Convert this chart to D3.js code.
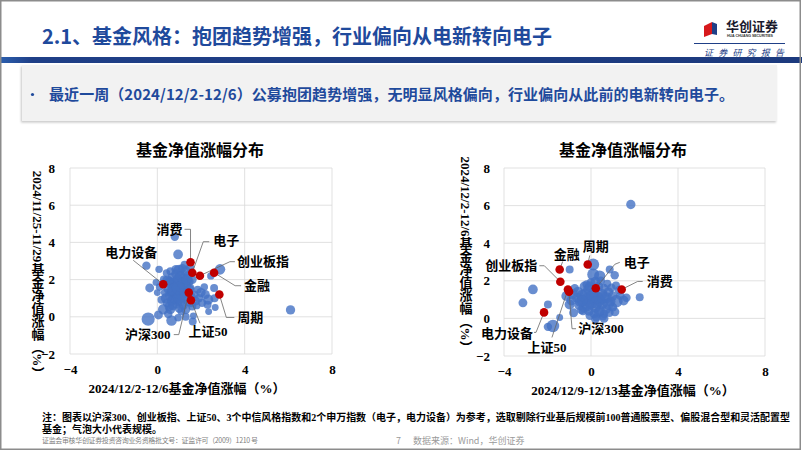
<!DOCTYPE html>
<html>
<head>
<meta charset="utf-8">
<script src="https://cdn.jsdelivr.net/npm/d3@7"></script>
<style>
  body { margin: 0; background: #fff; }
  svg { display: block; }
</style>
</head>
<body>
<script>
// ---------- data ----------
const xTicks = [-4, 0, 4, 8];
const yTicks = [-2, 0, 2, 4, 6, 8];
const indexNames = ["沪深300", "创业板指", "上证50", "消费", "金融", "周期", "电子", "电力设备"];

// left: x = 2024/12/2-12/6, y = 2024/11/25-11/29
const leftIndexX = [1.44, 1.95, 1.54, 1.52, 2.60, 2.84, 1.60, 0.27];
const leftIndexY = [1.30, 2.21, 0.89, 2.93, 2.37, 1.20, 2.37, 1.75];
// [x, y, size]
const leftFunds = [
  [0.8, 4.3, 45], [0.95, 3.35, 60], [-0.5, 2.75, 45], [0.08, 2.55, 35], [0.42, 2.35, 35],
  [2.87, 2.55, 70], [2.45, 2.2, 35], [-0.35, 1.55, 50], [-0.06, 1.85, 30], [2.6, 1.55, 40],
  [6.1, 0.37, 55], [-0.42, -0.12, 110], [0.65, -0.2, 70], [1.62, -0.25, 40], [1.65, 0.05, 30],
  [2.35, 0.28, 30], [2.65, 0.5, 30], [0.27, 0.4, 70], [0.05, 0.1, 50], [0.19, 0.92, 40],
  [2.05, 0.75, 45], [2.33, 0.92, 65], [2.62, 1.0, 40], [2.2, 1.2, 50], [1.85, 1.45, 40],
  [2.0, 1.3, 55], [2.15, 1.6, 35], [1.9, 1.0, 45], [2.3, 0.65, 40], [1.8, 0.6, 35],
  [1.3, 0.0, 40], [0.5, 0.15, 45], [0.95, -0.05, 35], [1.1, 0.3, 40], [0.1, 1.6, 35],
  [0.0, 1.3, 30], [0.3, 2.0, 40],
  [0.5, 1.5, 60], [0.6, 1.8, 70], [0.7, 2.1, 65], [0.85, 2.3, 55], [1.0, 2.5, 80],
  [1.15, 2.6, 50], [1.3, 2.45, 70], [1.4, 2.2, 60], [1.2, 2.0, 90], [1.0, 1.8, 100],
  [0.8, 1.6, 90], [0.65, 1.35, 70], [0.55, 1.1, 60], [0.75, 1.0, 80], [0.9, 1.25, 100],
  [1.1, 1.5, 90], [1.3, 1.7, 70], [1.45, 1.9, 55], [1.5, 1.55, 50], [1.35, 1.25, 60],
  [1.2, 1.05, 70], [1.05, 0.85, 80], [0.9, 0.7, 60], [0.7, 0.6, 55], [1.0, 0.45, 50],
  [1.2, 0.6, 45], [1.4, 0.8, 45], [0.45, 0.75, 50], [0.35, 1.3, 45], [0.6, 2.45, 40],
  [1.5, 2.65, 45], [1.25, 2.8, 40], [0.95, 2.0, 75], [0.75, 1.85, 55], [1.1, 1.2, 85],
  [0.85, 0.95, 75], [1.25, 1.35, 65], [0.65, 0.85, 55], [1.55, 1.1, 45], [1.7, 1.2, 40],
  [1.75, 0.85, 50], [1.6, 0.55, 40], [0.25, 1.75, 40], [1.05, 2.2, 60], [0.55, 1.95, 45],
  [0.4, 1.0, 70], [0.6, 0.4, 60], [1.3, 0.4, 55], [1.45, 1.45, 70], [0.75, 1.45, 100],
  [1.0, 1.05, 100], [1.15, 1.8, 80], [0.45, 1.95, 60], [1.35, 2.0, 70], [0.95, 1.55, 100],
  [0.55, 0.55, 55], [1.6, 2.0, 50], [1.55, 0.75, 50], [0.85, 2.55, 50]
];

// right: x = 2024/12/9-12/13, y = 2024/12/2-12/6
const rightIndexX = [-1.01, -1.41, -1.06, 1.41, -1.44, -0.15, 0.22, -2.16];
const rightIndexY = [1.42, 1.95, 1.54, 1.54, 2.60, 2.87, 1.60, 0.32];
const rightFunds = [
  [1.83, 6.06, 55], [-2.67, 1.54, 60], [-3.13, 0.83, 50], [-1.98, 0.74, 40], [-0.98, 2.6, 40],
  [-1.44, 0.05, 30], [-1.75, -0.4, 100], [-1.98, -0.45, 45], [2.24, 1.13, 40], [1.63, 1.1, 45],
  [1.09, 2.3, 45], [0.86, 2.6, 40], [0.1, 2.87, 90], [0.1, 2.34, 90], [0.4, 2.25, 80],
  [0.94, 1.63, 45], [1.17, 0.92, 100], [0.55, 0.12, 45], [-0.37, 0.39, 45], [-0.98, 0.74, 65],
  [-1.13, 1.19, 65], [-0.8, 0.3, 50], [1.3, 1.5, 50], [0.2, 1.95, 60], [-0.2, 1.8, 45],
  [-0.6, 1.4, 70], [-0.4, 1.2, 90], [-0.2, 1.0, 100], [0.0, 0.8, 90], [0.2, 0.6, 80],
  [0.4, 0.4, 70], [0.5, 0.8, 90], [0.3, 1.1, 100], [0.1, 1.35, 90], [-0.1, 1.55, 80],
  [-0.3, 1.7, 60], [0.5, 1.3, 70], [0.7, 1.1, 80], [0.9, 0.9, 60], [0.8, 1.4, 60],
  [0.6, 1.6, 50], [0.35, 1.7, 55], [-0.5, 0.9, 70], [-0.3, 0.6, 80], [-0.1, 0.4, 60],
  [0.15, 0.25, 55], [0.7, 0.5, 60], [1.0, 1.2, 55], [-0.65, 1.1, 60], [0.0, 1.9, 50],
  [0.6, 0.25, 45], [0.25, 0.05, 40], [-0.05, 0.15, 50], [0.85, 0.3, 45], [1.0, 0.6, 50],
  [-0.45, 0.45, 45], [-0.75, 1.6, 45], [0.45, 2.0, 45], [0.75, 1.85, 40], [1.15, 1.75, 40],
  [1.35, 1.2, 45], [-0.25, 1.3, 80], [0.15, 1.05, 90], [0.4, 0.95, 80], [-0.55, 0.7, 55],
  [-0.85, 1.3, 70], [-0.9, 0.95, 60], [0.05, 1.15, 100], [0.25, 0.85, 100], [0.55, 1.1, 90],
  [-0.15, 0.7, 90], [1.1, 0.35, 50], [1.5, 0.95, 60], [0.35, 0.3, 60], [-0.05, 1.7, 60],
  [0.8, 0.75, 80], [-0.4, 0.95, 80], [0.6, 0.0, 50], [0.2, -0.05, 45]
];

// ---------- layout ----------
const W = 802, H = 451;
const blue = "#4472C4", red = "#C00000", navy = "#1F4A9C";
const serif = "'Liberation Serif', 'Noto Sans CJK SC', serif";
const sans = "'Noto Sans CJK SC', sans-serif";

// label offsets (px, relative to red dot) and leader line points
const leftLabels = {
  "沪深300": { dx: -41, dy: 42, line: [[0, 0], [-10, 42], [-15, 42]] },
  "创业板指": { dx: 63, dy: -14, line: [[0, 0], [30, -14], [35, -14]] },
  "上证50": { dx: 17, dy: 31, line: [[0, 0], [9, 23]] },
  "消费": { dx: -21, dy: -33, line: [[0, 0], [0, -33], [-6, -33]] },
  "金融": { dx: 43, dy: 13, line: [[0, 0], [21, 13], [27, 13]] },
  "周期": { dx: 31, dy: 23, line: [[0, 0], [7, 23], [15, 23]] },
  "电子": { dx: 34, dy: -32, line: [[0, 0], [11, -31], [17, -31]] },
  "电力设备": { dx: -32, dy: -32, line: [[0, 0], [-30, -24]] }
};
const rightLabels = {
  "沪深300": { dx: 32, dy: 37, line: [[0, 0], [3, 37], [7, 37]] },
  "创业板指": { dx: -49, dy: -16, line: [[0, 0], [-16, -16], [-21, -16]] },
  "上证50": { dx: -21, dy: 58, line: [[0, 0], [-16, 48]] },
  "消费": { dx: 38, dy: -8, line: [[0, 0], [16, -8], [21, -8]] },
  "金融": { dx: 7, dy: -15, line: [[0, 0], [3, -8]] },
  "周期": { dx: 8, dy: -18, line: [[0, 0], [2, -9]] },
  "电子": { dx: 41, dy: -26, line: [[0, 0], [19, -24], [24, -26]] },
  "电力设备": { dx: -37, dy: 21, line: [[0, 0], [-8, 20], [-10, 20]] }
};

const svg = d3.select("body").append("svg")
  .attr("width", W).attr("height", H)
  .attr("viewBox", `0 0 ${W} ${H}`);

const defs = svg.append("defs");
const grad = defs.append("linearGradient").attr("id", "bar");
grad.append("stop").attr("offset", "0%").attr("stop-color", "#2c5fae");
grad.append("stop").attr("offset", "4%").attr("stop-color", "#1f3f87");
grad.append("stop").attr("offset", "100%").attr("stop-color", "#1c3a7e");
const shadow = defs.append("filter").attr("id", "sh").attr("x", "-5%").attr("y", "-20%")
  .attr("width", "110%").attr("height", "150%");
shadow.append("feDropShadow").attr("dx", -1).attr("dy", 1.5).attr("stdDeviation", 1.2)
  .attr("flood-color", "#000").attr("flood-opacity", 0.22);

// ---------- header ----------
svg.append("text")
  .attr("x", 42).attr("y", 44)
  .attr("font-family", sans).attr("font-weight", "bold").attr("font-size", 20)
  .attr("fill", navy)
  .text("2.1、基金风格：抱团趋势增强，行业偏向从电新转向电子");

svg.append("rect").attr("x", 0).attr("y", 57).attr("width", W).attr("height", 6)
  .attr("fill", "url(#bar)");

// logo
const logo = svg.append("g");
logo.append("polygon").attr("points", "704,26 712,22 712,34 704,37").attr("fill", "#d7191c");
logo.append("polygon").attr("points", "712,22 717,24 717,35 712,34").attr("fill", "#1f3f87");
logo.append("text").attr("x", 726).attr("y", 31)
  .attr("font-family", sans).attr("font-weight", "bold").attr("font-size", 13)
  .attr("fill", "#1a1a2e").text("华创证券");
logo.append("text").attr("x", 727).attr("y", 37)
  .attr("font-family", "'Liberation Sans', sans-serif").attr("font-weight", "bold").attr("font-size", 3.6)
  .attr("fill", "#333").attr("textLength", 46).text("HUA CHUANG SECURITIES");
logo.append("line").attr("x1", 694).attr("x2", 785).attr("y1", 43.5).attr("y2", 43.5)
  .attr("stroke", "#1f3f87").attr("stroke-width", 1);
logo.append("text").attr("x", 704).attr("y", 56)
  .attr("font-family", "'Noto Sans CJK SC', sans-serif").attr("font-size", 9)
  .attr("font-style", "italic")
  .attr("fill", "#1f3f87").attr("textLength", 80).text("证券研究报告");

// summary box
svg.append("rect").attr("x", 22).attr("y", 65).attr("width", 755).attr("height", 56)
  .attr("fill", "#F2F2F2").attr("filter", "url(#sh)");
svg.append("circle").attr("cx", 32.5).attr("cy", 94.5).attr("r", 1.6).attr("fill", navy);
svg.append("text")
  .attr("x", 49).attr("y", 99.5)
  .attr("font-family", sans).attr("font-weight", "bold").attr("font-size", 15)
  .attr("fill", navy).attr("textLength", 685)
  .text("最近一周（2024/12/2-12/6）公募抱团趋势增强，无明显风格偏向，行业偏向从此前的电新转向电子。");

// ---------- charts ----------
const rScale = d3.scaleSqrt().domain([0, 110]).range([0, 6.6]);

function drawChart(cfg) {
  const x = d3.scaleLinear().domain([-4, 8]).range([cfg.left, cfg.right]);
  const y = d3.scaleLinear().domain([-2, 8]).range([cfg.bottom, cfg.top]);
  const g = svg.append("g");

  // grid
  g.append("g").selectAll("line").data(yTicks).join("line")
    .attr("x1", cfg.left).attr("x2", cfg.right)
    .attr("y1", d => y(d)).attr("y2", d => y(d))
    .attr("stroke", "#D9D9D9").attr("stroke-width", 0.8);
  g.append("g").selectAll("line").data(xTicks).join("line")
    .attr("y1", cfg.top).attr("y2", cfg.bottom)
    .attr("x1", d => x(d)).attr("x2", d => x(d))
    .attr("stroke", "#D9D9D9").attr("stroke-width", 0.8);

  // axes (labels only)
  const yAxis = g.append("g").attr("transform", `translate(${cfg.left},0)`)
    .call(d3.axisLeft(y).tickValues(yTicks).tickSize(0).tickPadding(cfg.yPad));
  const xAxis = g.append("g").attr("transform", `translate(0,${cfg.bottom})`)
    .call(d3.axisBottom(x).tickValues(xTicks).tickSize(0).tickPadding(11));
  [yAxis, xAxis].forEach(a => {
    a.select(".domain").remove();
    a.selectAll("text").attr("font-family", serif).attr("font-weight", "bold")
      .attr("font-size", 13).attr("fill", "#000");
  });

  // fund bubbles
  g.append("g").selectAll("circle").data(cfg.funds).join("circle")
    .attr("cx", d => x(d[0])).attr("cy", d => y(d[1])).attr("r", d => rScale(d[2]))
    .attr("fill", blue).attr("fill-opacity", 0.8);

  const idx = indexNames.map((n, i) => ({ name: n, x: cfg.ix[i], y: cfg.iy[i] }));

  // leader lines
  g.append("g").selectAll("polyline").data(idx).join("polyline")
    .attr("points", d => {
      const px = x(d.x), py = y(d.y);
      return cfg.labels[d.name].line.map(p => [px + p[0], py + p[1]].join(",")).join(" ");
    })
    .attr("fill", "none").attr("stroke", "#666").attr("stroke-width", 0.8);

  // index dots
  g.append("g").selectAll("circle").data(idx).join("circle")
    .attr("cx", d => x(d.x)).attr("cy", d => y(d.y)).attr("r", 4.3)
    .attr("fill", red);

  // index labels
  g.append("g").selectAll("text").data(idx).join("text")
    .attr("x", d => x(d.x) + cfg.labels[d.name].dx)
    .attr("y", d => y(d.y) + cfg.labels[d.name].dy)
    .attr("text-anchor", "middle").attr("dominant-baseline", "central")
    .attr("font-family", serif).attr("font-weight", "bold").attr("font-size", 13)
    .attr("fill", "#000")
    .text(d => d.name);

  // titles
  g.append("text").attr("x", cfg.titleX).attr("y", 155.5)
    .attr("text-anchor", "middle")
    .attr("font-family", serif).attr("font-weight", "bold").attr("font-size", 16)
    .text("基金净值涨幅分布");
  g.append("text").attr("x", cfg.xtX).attr("y", cfg.xtY)
    .attr("text-anchor", "middle")
    .attr("font-family", serif).attr("font-weight", "bold").attr("font-size", 13)
    .text(cfg.xTitle);
  g.append("text").attr("x", cfg.ytX).attr("y", cfg.ytY)
    .attr("text-anchor", "middle")
    .style("writing-mode", "vertical-rl")
    .attr("font-family", serif).attr("font-weight", "bold").attr("font-size", 13)
    .text(cfg.yTitle);
}

drawChart({
  left: 70, right: 332, top: 168, bottom: 354, yPad: 15,
  funds: leftFunds, ix: leftIndexX, iy: leftIndexY, labels: leftLabels,
  titleX: 200, xtX: 187, xtY: 392.5, ytX: 37, ytY: 275,
  xTitle: "2024/12/2-12/6基金净值涨幅（%）",
  yTitle: "2024/11/25-11/29基金净值涨幅（%）"
});
drawChart({
  left: 504, right: 765, top: 168, bottom: 356, yPad: 14,
  funds: rightFunds, ix: rightIndexX, iy: rightIndexY, labels: rightLabels,
  titleX: 623, xtX: 633, xtY: 394.5, ytX: 465, ytY: 255,
  xTitle: "2024/12/9-12/13基金净值涨幅（%）",
  yTitle: "2024/12/2-12/6基金净值涨幅（%）"
});

// ---------- footer ----------
svg.append("text").attr("x", 42).attr("y", 420.5)
  .attr("font-family", serif).attr("font-weight", "bold").attr("font-size", 10)
  .attr("textLength", 748)
  .text("注：图表以沪深300、创业板指、上证50、3个中信风格指数和2个申万指数（电子，电力设备）为参考，选取剔除行业基后规模前100普通股票型、偏股混合型和灵活配置型");
svg.append("text").attr("x", 42).attr("y", 432.5)
  .attr("font-family", serif).attr("font-weight", "bold").attr("font-size", 10)
  .text("基金；气泡大小代表规模。");
svg.append("text").attr("x", 42).attr("y", 443)
  .attr("font-family", sans).attr("font-size", 7).attr("fill", "#7f7f7f")
  .attr("textLength", 216)
  .text("证监会审核华创证券投资咨询业务资格批文号：证监许可（2009）1210 号");
svg.append("text").attr("x", 396).attr("y", 444)
  .attr("font-family", sans).attr("font-size", 9).attr("fill", "#9a9a9a").text("7");
svg.append("text").attr("x", 413).attr("y", 444)
  .attr("font-family", sans).attr("font-size", 9).attr("fill", "#9a9a9a")
  .text("数据来源：Wind，华创证券");

// frame
svg.append("rect").attr("x", 0.75).attr("y", 0.75).attr("width", W - 2.5).attr("height", H - 2.5)
  .attr("fill", "none").attr("stroke", "#8c8c8c").attr("stroke-width", 1.5);
</script>
</body>
</html>
